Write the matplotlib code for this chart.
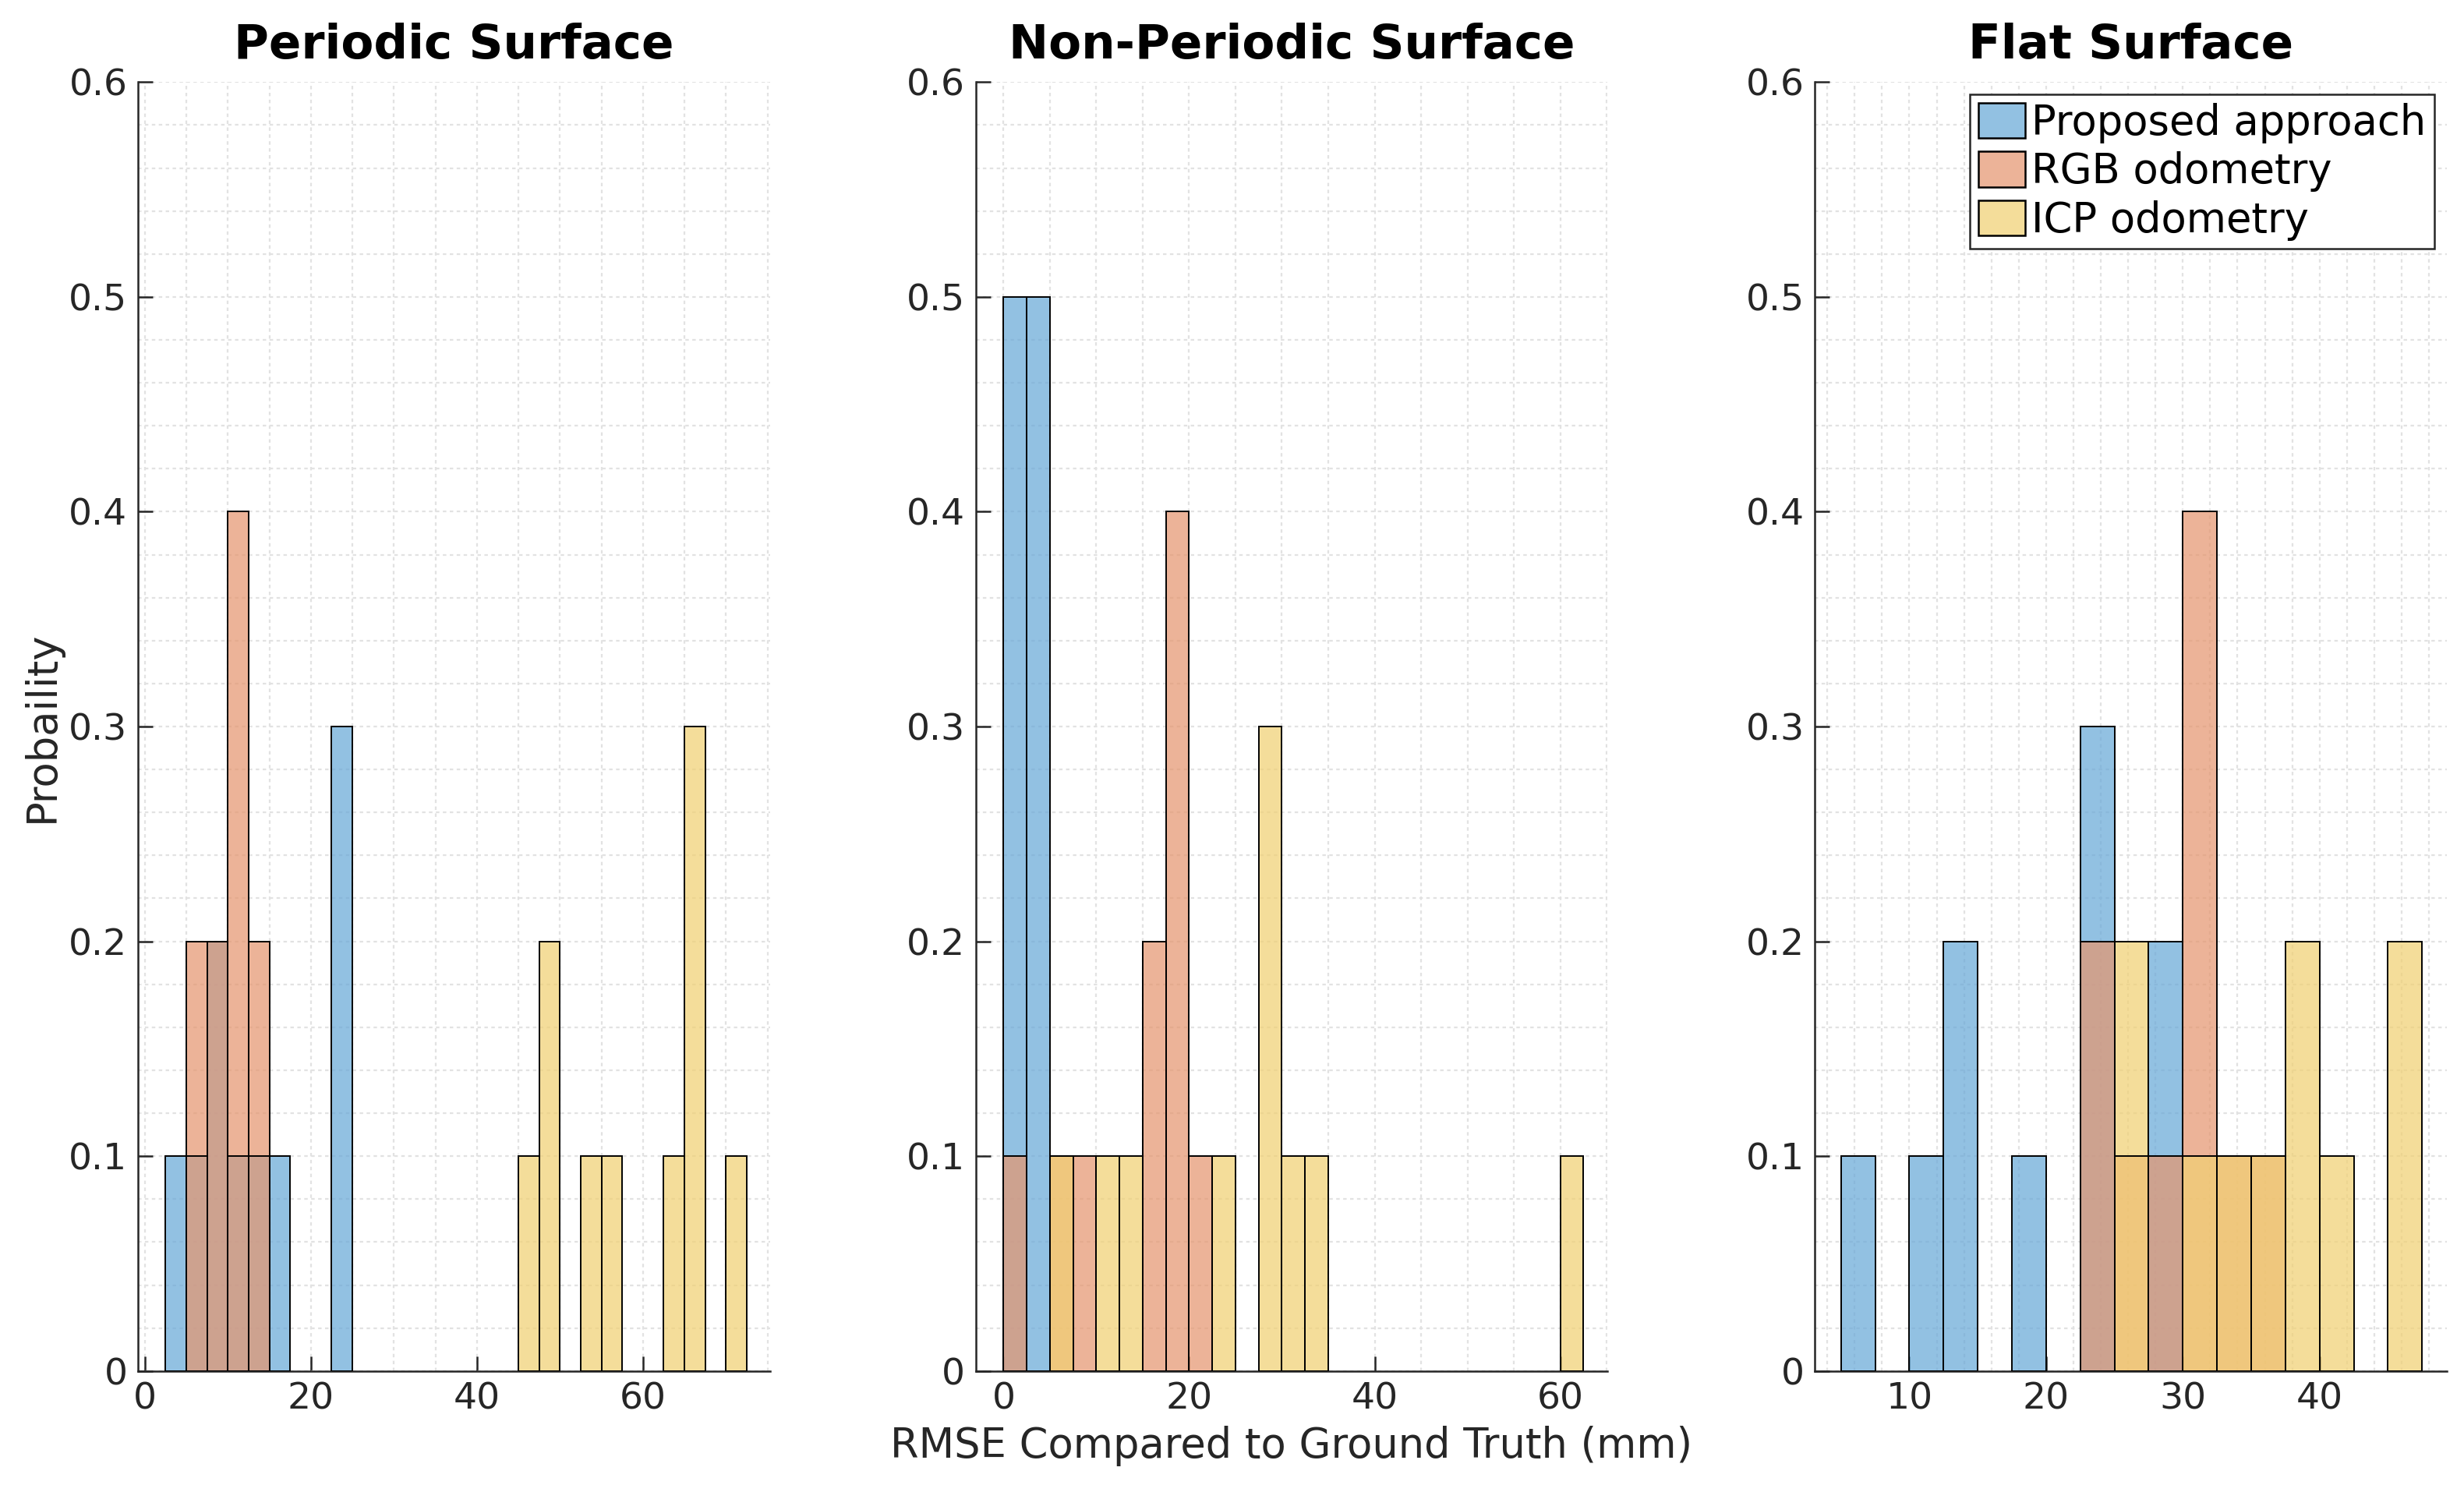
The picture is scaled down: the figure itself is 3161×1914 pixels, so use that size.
import numpy as np
import matplotlib.pyplot as plt
from matplotlib.ticker import MultipleLocator, FuncFormatter
from matplotlib.patches import Patch

# bin width of every histogram (mm)
bin_width = 2.5

# Periodic surface: left bin edges and probabilities
periodic_proposed_left = [2.5, 5, 7.5, 10, 12.5, 15, 22.5]
periodic_proposed_prob = [0.1, 0.1, 0.2, 0.1, 0.1, 0.1, 0.3]
periodic_rgb_left = [5, 7.5, 10, 12.5]
periodic_rgb_prob = [0.2, 0.2, 0.4, 0.2]
periodic_icp_left = [45, 47.5, 52.5, 55, 62.5, 65, 70]
periodic_icp_prob = [0.1, 0.2, 0.1, 0.1, 0.1, 0.3, 0.1]

# Non-periodic surface
nonper_proposed_left = [0, 2.5]
nonper_proposed_prob = [0.5, 0.5]
nonper_rgb_left = [0, 5, 7.5, 15, 17.5, 20]
nonper_rgb_prob = [0.1, 0.1, 0.1, 0.2, 0.4, 0.1]
nonper_icp_left = [5, 10, 12.5, 22.5, 27.5, 30, 32.5, 60]
nonper_icp_prob = [0.1, 0.1, 0.1, 0.1, 0.3, 0.1, 0.1, 0.1]

# Flat surface
flat_proposed_left = [5, 10, 12.5, 17.5, 22.5, 27.5]
flat_proposed_prob = [0.1, 0.1, 0.2, 0.1, 0.3, 0.2]
flat_rgb_left = [22.5, 25, 27.5, 30, 32.5, 35]
flat_rgb_prob = [0.2, 0.1, 0.1, 0.4, 0.1, 0.1]
flat_icp_left = [25, 30, 32.5, 35, 37.5, 40, 45]
flat_icp_prob = [0.2, 0.1, 0.1, 0.1, 0.2, 0.1, 0.2]

titles = ['Periodic Surface', 'Non-Periodic Surface', 'Flat Surface']
labels = ['Proposed approach', 'RGB odometry', 'ICP odometry']
colors = ['#68a9d8', '#e59670', '#f1d073']
alpha = 0.72
axis_col = '#262626'

panels = [
    [(periodic_proposed_left, periodic_proposed_prob),
     (periodic_rgb_left, periodic_rgb_prob),
     (periodic_icp_left, periodic_icp_prob)],
    [(nonper_proposed_left, nonper_proposed_prob),
     (nonper_rgb_left, nonper_rgb_prob),
     (nonper_icp_left, nonper_icp_prob)],
    [(flat_proposed_left, flat_proposed_prob),
     (flat_rgb_left, flat_rgb_prob),
     (flat_icp_left, flat_icp_prob)],
]
xlims = [(-0.8, 75.3), (-3.0, 65.1), (3.1, 49.3)]
xmajor = [20, 20, 10]
xminor = [5, 5, 2]
lefts = [0.0561, 0.396, 0.7366]
width = 0.2564

plt.rcParams['font.family'] = 'DejaVu Sans'
fig = plt.figure(figsize=(3161 / 200, 1914 / 200), dpi=200)

for i in range(3):
    ax = fig.add_axes([lefts[i], 0.0811, width, 0.8639])
    for (left, prob), c in zip(panels[i], colors):
        ax.bar(left, prob, width=bin_width, align='edge', color=c, alpha=alpha,
               edgecolor='none', zorder=2)
        ax.bar(left, prob, width=bin_width, align='edge', fill=False,
               edgecolor='black', linewidth=0.7, zorder=3)
    ax.set_xlim(*xlims[i])
    ax.set_ylim(0, 0.6)
    ax.xaxis.set_major_locator(MultipleLocator(xmajor[i]))
    ax.xaxis.set_minor_locator(MultipleLocator(xminor[i]))
    ax.yaxis.set_major_locator(MultipleLocator(0.1))
    ax.yaxis.set_minor_locator(MultipleLocator(0.02))
    ax.yaxis.set_major_formatter(FuncFormatter(lambda v, p: '0' if abs(v) < 1e-9 else f'{v:.1f}'))
    ax.grid(True, which='both', linestyle=(0, (2, 2)), color='#e2e2e2', linewidth=0.8, zorder=0)
    ax.set_axisbelow(True)
    for s in ['top', 'right']:
        ax.spines[s].set_visible(False)
    for s in ['left', 'bottom']:
        ax.spines[s].set_color(axis_col)
        ax.spines[s].set_linewidth(0.9)
    ax.tick_params(which='major', direction='in', length=7, width=0.9, colors=axis_col,
                   labelsize=17, pad=5)
    ax.tick_params(which='minor', length=0)
    ax.set_title(titles[i], fontsize=22, fontweight='bold', pad=11)
    if i == 0:
        ax.set_ylabel('Probaility', fontsize=19, color=axis_col, labelpad=3)
    if i == 1:
        ax.set_xlabel('RMSE Compared to Ground Truth (mm)', fontsize=19, color=axis_col, labelpad=4)
    if i == 2:
        handles = [Patch(facecolor=plt.matplotlib.colors.to_rgba(c, alpha), edgecolor='black',
                         linewidth=0.9) for c in colors]
        leg = ax.legend(handles, labels, loc='upper right', fontsize=19, frameon=True,
                        fancybox=False, framealpha=1, edgecolor=axis_col,
                        handlelength=1.15, handleheight=0.95, handletextpad=0.15,
                        borderpad=0.2, labelspacing=0.2, borderaxespad=0.3)
        leg.get_frame().set_linewidth(0.9)

fig.savefig('out.png', dpi=200)
